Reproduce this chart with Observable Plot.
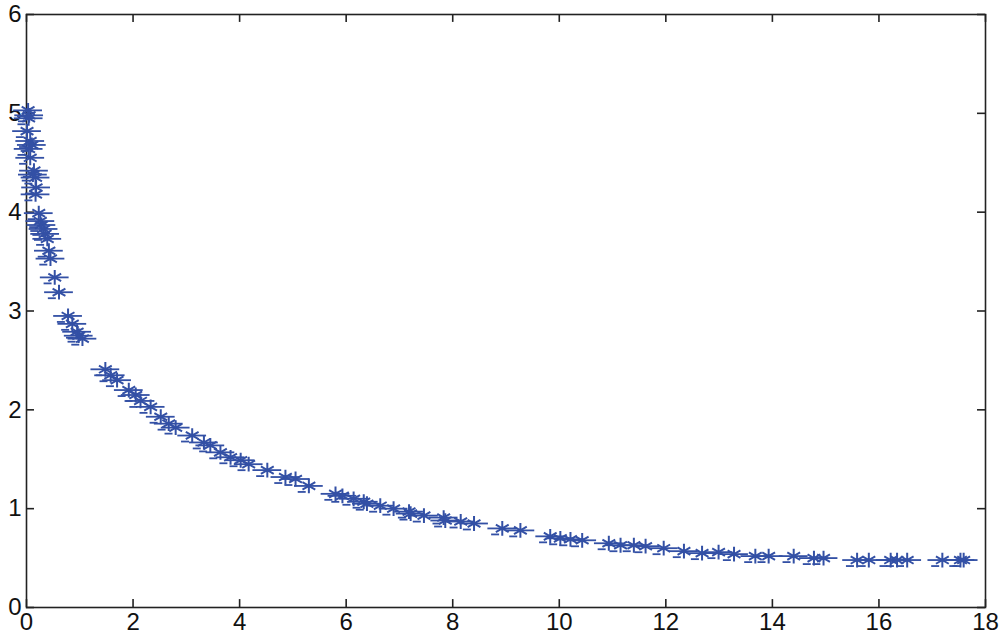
<!DOCTYPE html>
<html>
<head>
<meta charset="utf-8">
<script src="https://cdn.jsdelivr.net/npm/d3@7"></script>
<script src="https://cdn.jsdelivr.net/npm/@observablehq/plot@0.6"></script>
<style>
  html, body { margin: 0; padding: 0; background: #fff; }
  #chart { width: 1005px; height: 639px; }
</style>
</head>
<body>
<div id="chart"></div>
<script>
const xValues = [
  0.03, 0.04, 0.05, 0.01, 0.07, 0.10, 0.04, 0.07, 0.14, 0.12, 0.17, 0.18, 0.17,
  0.23, 0.26, 0.28, 0.32, 0.35, 0.39, 0.42, 0.45, 0.53, 0.61, 0.78, 0.86, 0.95, 0.98, 1.05,
  1.48, 1.58, 1.70, 1.92, 2.05, 2.14, 2.33, 2.52, 2.67, 2.80, 3.11, 3.33, 3.45, 3.64,
  3.83, 4.02, 4.17, 4.52, 4.86, 5.05, 5.30, 5.80, 5.93, 6.14, 6.33, 6.39, 6.64, 6.89,
  7.18, 7.21, 7.46, 7.83, 7.86, 8.15, 8.40, 8.93, 9.27, 9.83, 10.02, 10.21, 10.43,
  10.93, 11.15, 11.40, 11.62, 11.96, 12.34, 12.68, 12.99, 13.28, 13.68, 13.93, 14.40,
  14.78, 14.96, 15.59, 15.81, 16.22, 16.34, 16.53, 17.19, 17.53, 17.59
];
const yValues = [
  5.03, 4.95, 4.98, 4.82, 4.72, 4.68, 4.64, 4.55, 4.42, 4.38, 4.35, 4.25, 4.18,
  3.99, 3.91, 3.87, 3.83, 3.78, 3.73, 3.61, 3.53, 3.34, 3.19, 2.95, 2.87, 2.79, 2.75, 2.72,
  2.41, 2.35, 2.30, 2.20, 2.15, 2.09, 2.03, 1.93, 1.86, 1.82, 1.74, 1.67, 1.64, 1.57,
  1.52, 1.49, 1.45, 1.39, 1.32, 1.30, 1.23, 1.15, 1.13, 1.10, 1.07, 1.05, 1.03, 1.00,
  0.97, 0.95, 0.93, 0.91, 0.88, 0.87, 0.85, 0.80, 0.78, 0.72, 0.70, 0.69, 0.68,
  0.65, 0.63, 0.63, 0.62, 0.60, 0.57, 0.55, 0.56, 0.54, 0.52, 0.52, 0.52,
  0.50, 0.50, 0.48, 0.48, 0.48, 0.48, 0.48, 0.48, 0.48, 0.48
];
const xTicks = [0, 2, 4, 6, 8, 10, 12, 14, 16, 18];
const yTicks = [0, 1, 2, 3, 4, 5, 6];

const data = xValues.map((x, i) => ({x, y: yValues[i]}));
const blue = "#3350a5";
const axisColor = "#222";
const font = "'Liberation Sans', Arial, Helvetica, sans-serif";

const chart = Plot.plot({
  width: 1005,
  height: 639,
  marginLeft: 26,
  marginRight: 20,
  marginTop: 14,
  marginBottom: 32,
  style: {fontFamily: font, fontSize: "24px", color: "#111", background: "#fff"},
  x: {domain: [0, 18]},
  y: {domain: [0, 6]},
  marks: [
    Plot.frame({stroke: axisColor, strokeWidth: 1.6}),
    // inward tick marks on all four sides
    Plot.ruleX(xTicks, {x: d => d, y1: 0, y2: 0.08, stroke: axisColor, strokeWidth: 1.6}),
    Plot.ruleX(xTicks, {x: d => d, y1: 6, y2: 5.92, stroke: axisColor, strokeWidth: 1.6}),
    Plot.ruleY(yTicks, {y: d => d, x1: 0, x2: 0.15, stroke: axisColor, strokeWidth: 1.6}),
    Plot.ruleY(yTicks, {y: d => d, x1: 18, x2: 17.85, stroke: axisColor, strokeWidth: 1.6}),
    // tick labels
    Plot.axisX(xTicks, {anchor: "bottom", tickSize: 0, tickPadding: 5, label: null, tickFormat: "d", fontSize: 24, fill: "#111"}),
    Plot.axisY(yTicks, {anchor: "left", tickSize: 0, tickPadding: 5, label: null, tickFormat: "d", fontSize: 24, fill: "#111"}),
    // markers
    Plot.ruleY(data, {y: "y", x1: d => d.x - 0.27, x2: d => d.x + 0.27, stroke: blue, strokeWidth: 1.8}),
    Plot.ruleY(data, {y: "y", x1: d => d.x - 0.2, x2: d => d.x - 0.05, dy: 6, stroke: blue, strokeWidth: 1.8}),
    Plot.dot(data, {x: "x", y: "y", symbol: "asterisk", r: 7, stroke: blue, strokeWidth: 2})
  ]
});
document.getElementById("chart").appendChild(chart);
</script>
</body>
</html>
